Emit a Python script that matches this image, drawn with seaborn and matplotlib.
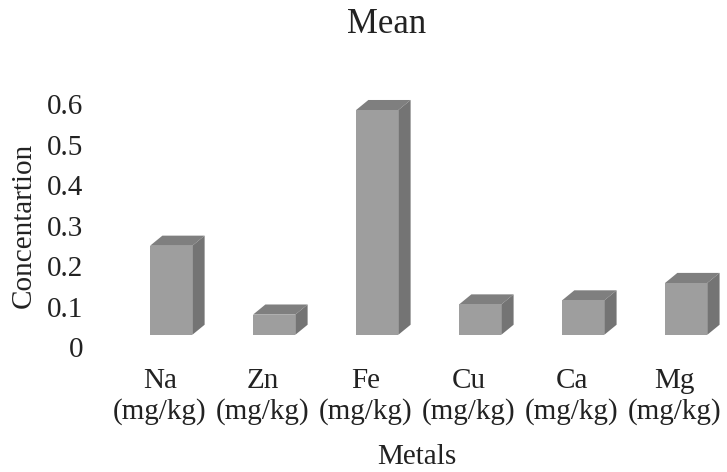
import matplotlib
matplotlib.use("Agg")
import matplotlib.pyplot as plt
import seaborn as sns
import pandas as pd

metals = ["Na", "Zn", "Fe", "Cu", "Ca", "Mg"]
unit_label = "(mg/kg)"
mean_conc = [0.22, 0.05, 0.555, 0.075, 0.085, 0.128]
y_ticks = [0, 0.1, 0.2, 0.3, 0.4, 0.5, 0.6]
y_tick_labels = ["0", "0.1", "0.2", "0.3", "0.4", "0.5", "0.6"]

sns.set_theme(style="white")
plt.rcParams["font.family"] = ["Liberation Serif", "DejaVu Serif"]

df = pd.DataFrame({"Metal": [f"{m}\n{unit_label}" for m in metals],
                   "Mean": mean_conc})

fig = plt.figure(figsize=(7.27, 4.72), dpi=100)
ax = fig.add_axes([0.149, 0.2648, 0.850, 0.5577])

sns.barplot(data=df, x="Metal", y="Mean", color="#9c9c9c", width=0.41,
            saturation=1, linewidth=0, ax=ax)

# pseudo-3D look: lift bars off the floor and add top/side faces
floor_lift = 0.03
shift_x = 0.11
depth_x, depth_y = 0.12, 0.025
front_c, top_c, side_c = "#9e9e9e", "#7f7f7f", "#747474"
for p in ax.patches:
    p.set_x(p.get_x() + shift_x)
    p.set_y(floor_lift)
    p.set_facecolor(front_c)
    p.set_zorder(3)
    x0 = p.get_x()
    x1 = x0 + p.get_width()
    y0 = floor_lift
    y1 = floor_lift + p.get_height()
    ax.fill([x0, x0 + depth_x, x1 + depth_x, x1],
            [y1, y1 + depth_y, y1 + depth_y, y1],
            color=top_c, lw=0, zorder=2)
    ax.fill([x1, x1 + depth_x, x1 + depth_x, x1],
            [y0, y0 + depth_y, y1 + depth_y, y1],
            color=side_c, lw=0, zorder=2)

ax.set_xlim(-0.5, 5.5)
ax.set_ylim(0, 0.65)
ax.set_yticks(y_ticks)
ax.set_yticklabels(y_tick_labels)
sns.despine(ax=ax, left=True, bottom=True)
ax.tick_params(axis="both", length=0, labelsize=21, colors="#222222")
ax.tick_params(axis="y", pad=18)
ax.tick_params(axis="x", pad=15)
for t in ax.get_xticklabels():
    t.set_linespacing(1.2)

ax.set_xlabel("Metals", fontsize=21, color="#222222")
ax.xaxis.set_label_coords(0.5, -0.37)
ax.set_ylabel("Concentartion", fontsize=21, color="#222222")
ax.yaxis.set_label_coords(-0.137, 0.4615)
ax.yaxis.label.set_verticalalignment("center")

fig.text(0.532, 0.948, "Mean", ha="center", va="center", fontsize=25,
         color="#222222")

fig.savefig("out.png", dpi=100, facecolor="white")
